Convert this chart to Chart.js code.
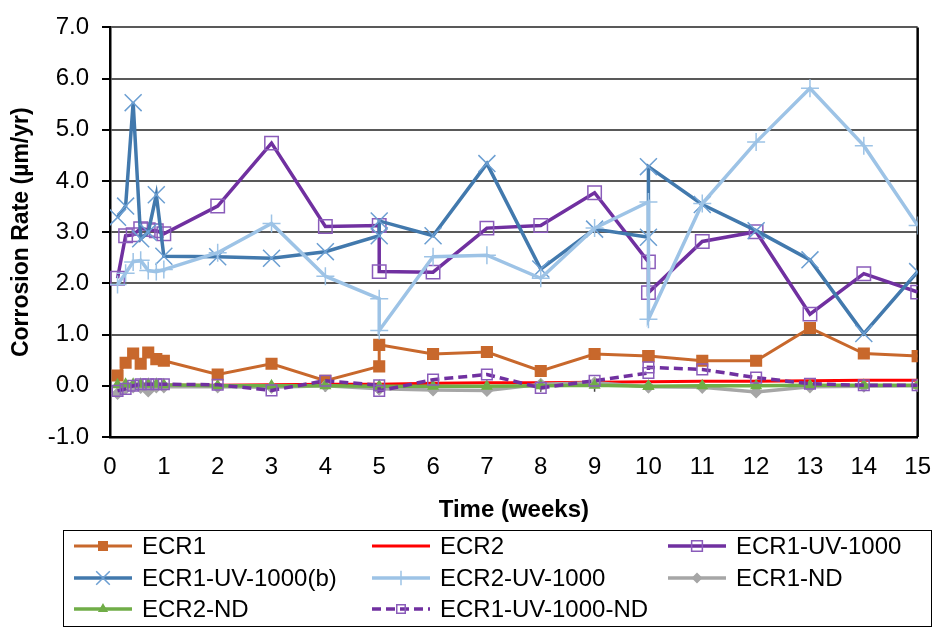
<!DOCTYPE html>
<html>
<head>
<meta charset="utf-8">
<style>
  html, body { margin: 0; padding: 0; background: #fff; }
  #wrap { width: 947px; height: 629px; }
</style>
<script src="https://cdn.jsdelivr.net/npm/chart.js@4.4.1/dist/chart.umd.min.js"></script>
</head>
<body>
<div id="wrap"><canvas id="chart" width="947" height="629"></canvas></div>
<script>
// time axis (weeks) shared by every series; weeks 5 and 10 have two readings each
const weeks = [0.14, 0.29, 0.43, 0.57, 0.71, 0.86, 1, 2, 3, 4, 5, 5, 6, 7, 8, 9, 10, 10, 11, 12, 13, 14, 15];

const ecr1        = [0.20, 0.45, 0.63, 0.43, 0.65, 0.52, 0.49, 0.22, 0.43, 0.10, 0.38, 0.80, 0.62, 0.66, 0.29, 0.62, 0.58, 0.58, 0.49, 0.49, 1.13, 0.63, 0.58];
const ecr2        = [0.00, 0.00, 0.01, 0.01, 0.01, 0.01, 0.01, 0.01, 0.02, 0.03, 0.03, 0.03, 0.05, 0.06, 0.06, 0.07, 0.08, 0.08, 0.09, 0.09, 0.10, 0.11, 0.11];
const ecr1Uv      = [2.10, 2.93, 2.95, 3.07, 3.05, 3.03, 2.97, 3.51, 4.74, 3.11, 3.13, 2.23, 2.22, 3.08, 3.13, 3.77, 2.42, 1.82, 2.82, 3.01, 1.40, 2.19, 1.83];
const ecr1UvB     = [3.29, 3.51, 5.53, 2.87, 3.00, 3.73, 2.53, 2.52, 2.49, 2.62, 2.93, 3.22, 2.93, 4.34, 2.28, 3.06, 2.90, 4.28, 3.54, 3.03, 2.46, 1.02, 2.23];
const ecr2Uv      = [1.98, 2.20, 2.42, 2.45, 2.25, 2.23, 2.27, 2.60, 3.17, 2.14, 1.70, 1.08, 2.52, 2.55, 2.10, 3.08, 3.59, 1.30, 3.56, 4.76, 5.81, 4.69, 3.13];
const ecr1Nd      = [-0.15, -0.05, -0.02, -0.03, -0.10, -0.02, -0.02, -0.02, -0.03, 0.00, -0.06, -0.06, -0.08, -0.09, 0.03, 0.06, -0.02, -0.02, -0.03, -0.12, -0.02, -0.01, 0.00];
const ecr2Nd      = [0.02, 0.03, 0.03, 0.03, 0.03, 0.03, 0.02, 0.00, 0.00, 0.00, -0.01, -0.01, -0.01, -0.01, 0.00, 0.01, -0.01, -0.01, 0.00, 0.00, 0.01, 0.01, 0.01];
const ecr1UvNd    = [-0.10, -0.06, 0.00, 0.03, 0.03, 0.03, 0.03, 0.02, -0.09, 0.10, 0.01, -0.10, 0.12, 0.22, -0.04, 0.10, 0.25, 0.36, 0.32, 0.16, 0.04, 0.01, 0.01];

const yTicks = [-1, 0, 1, 2, 3, 4, 5, 6, 7];

const FONT = 'Arial, "Liberation Sans", sans-serif';
Chart.defaults.font.family = FONT;
Chart.defaults.color = '#000';

function pts(values) {
    return values.map((v, i) => ({ x: weeks[i], y: v }));
}

function series(label, values, style) {
    return Object.assign({
        label: label,
        data: pts(values),
        fill: false,
        tension: 0,
        borderWidth: 3.5,
        pointBorderWidth: 1.5,
        pointRadius: 0
    }, style);
}

const datasets = [
    series('ECR1', ecr1, {
        borderColor: '#C8682C', backgroundColor: '#C8682C', borderWidth: 3,
        pointStyle: 'rect', pointRadius: 7.5, pointBackgroundColor: '#C8682C', pointBorderColor: '#C8682C'
    }),
    series('ECR2', ecr2, {
        borderColor: '#FF0000', backgroundColor: '#FF0000', borderWidth: 3
    }),
    series('ECR1-UV-1000', ecr1Uv, {
        borderColor: '#7030A0', backgroundColor: 'rgba(0,0,0,0)',
        pointStyle: 'rect', pointRadius: 9.5, pointBackgroundColor: 'rgba(0,0,0,0)', pointBorderColor: '#8A5CBA'
    }),
    series('ECR1-UV-1000(b)', ecr1UvB, {
        borderColor: '#4279AD', backgroundColor: 'rgba(0,0,0,0)',
        pointStyle: 'crossRot', pointRadius: 12, pointBorderColor: '#6C9FD2'
    }),
    series('ECR2-UV-1000', ecr2Uv, {
        borderColor: '#9DC3E6', backgroundColor: 'rgba(0,0,0,0)',
        pointStyle: 'cross', pointRadius: 9, pointBorderColor: '#9DC3E6'
    }),
    series('ECR1-ND', ecr1Nd, {
        borderColor: '#A6A6A6', backgroundColor: '#A6A6A6',
        pointStyle: 'rectRot', pointRadius: 5.5, pointBackgroundColor: '#A6A6A6', pointBorderColor: '#A6A6A6'
    }),
    series('ECR2-ND', ecr2Nd, {
        borderColor: '#70AD47', backgroundColor: '#70AD47',
        pointStyle: 'triangle', pointRadius: 5.5, pointBackgroundColor: '#70AD47', pointBorderColor: '#70AD47'
    }),
    series('ECR1-UV-1000-ND', ecr1UvNd, {
        borderColor: '#7030A0', backgroundColor: 'rgba(0,0,0,0)', borderDash: [9, 5],
        pointStyle: 'rect', pointRadius: 7.5, pointBackgroundColor: 'rgba(0,0,0,0)', pointBorderColor: '#8A5CBA'
    })
];
// later series painted on top, like the spreadsheet
datasets.forEach((d, i) => { d.order = datasets.length - i; });

// right edge of the plot frame + small ticks on the zero line
const framePlugin = {
    id: 'frame',
    beforeDatasetsDraw(chart) {
        const { ctx, chartArea, scales } = chart;
        ctx.save();
        ctx.strokeStyle = '#000';
        ctx.lineWidth = 2.5;
        ctx.beginPath();
        ctx.moveTo(chartArea.right, chartArea.top);
        ctx.lineTo(chartArea.right, chartArea.bottom);
        ctx.stroke();
        const y0 = scales.y.getPixelForValue(0);
        ctx.strokeStyle = '#444';
        ctx.lineWidth = 1.5;
        ctx.beginPath();
        for (let w = 1; w <= 15; w++) {
            const x = scales.x.getPixelForValue(w);
            ctx.moveTo(x, y0);
            ctx.lineTo(x, y0 + 6);
        }
        ctx.stroke();
        ctx.restore();
    }
};

// three-column legend in a box under the axis title
const legendPlugin = {
    id: 'boxLegend',
    afterDraw(chart) {
        const ctx = chart.ctx;
        const cols = [74, 372, 668];
        const rows = [546, 578, 609];
        ctx.save();
        ctx.strokeStyle = '#000';
        ctx.lineWidth = 1;
        ctx.strokeRect(63.5, 530.5, 868, 96);
        ctx.font = '24px ' + FONT;
        ctx.textBaseline = 'middle';
        ctx.fillStyle = '#000';
        chart.data.datasets.forEach((ds, i) => {
            const x = cols[i % 3];
            const y = rows[Math.floor(i / 3)];
            ctx.save();
            ctx.strokeStyle = ds.borderColor;
            ctx.lineWidth = ds.borderWidth;
            ctx.setLineDash(ds.borderDash || []);
            ctx.beginPath();
            ctx.moveTo(x, y);
            ctx.lineTo(x + 58, y);
            ctx.stroke();
            ctx.setLineDash([]);
            if (ds.pointRadius > 0 && Chart.helpers && Chart.helpers.drawPoint) {
                ctx.strokeStyle = ds.pointBorderColor;
                ctx.fillStyle = ds.pointBackgroundColor || 'rgba(0,0,0,0)';
                ctx.lineWidth = ds.pointBorderWidth;
                Chart.helpers.drawPoint(ctx, {
                    pointStyle: ds.pointStyle,
                    radius: ds.pointRadius * 0.8,
                    rotation: 0,
                    borderWidth: ds.pointBorderWidth
                }, x + 29, y);
            }
            ctx.restore();
            ctx.fillText(ds.label, x + 68, y + 1);
        });
        ctx.restore();
    }
};

new Chart(document.getElementById('chart'), {
    type: 'line',
    data: { datasets: datasets },
    options: {
        responsive: false,
        animation: false,
        layout: { padding: { top: 19, right: 27, bottom: 102, left: 0 } },
        plugins: {
            legend: { display: false },
            tooltip: { enabled: false }
        },
        scales: {
            x: {
                type: 'linear',
                min: 0,
                max: 15,
                ticks: { stepSize: 1, font: { size: 24 }, color: '#000', padding: 16 },
                grid: { display: false, drawTicks: false },
                border: { color: '#000', width: 2.5 },
                title: {
                    display: true, text: 'Time (weeks)', color: '#000',
                    font: { size: 24, weight: 'bold' }, padding: { top: 0, bottom: 2 }
                },
                afterFit(scale) { scale.height = 90; }
            },
            y: {
                min: -1,
                max: 7,
                afterBuildTicks(scale) { scale.ticks = yTicks.map(v => ({ value: v })); },
                ticks: { font: { size: 24 }, color: '#000', padding: 13, callback: v => Number(v).toFixed(1) },
                grid: { color: '#595959', lineWidth: 2, tickLength: 8, tickColor: '#000', tickWidth: 2 },
                border: { color: '#000', width: 2.5 },
                title: {
                    display: true, text: 'Corrosion Rate (µm/yr)', color: '#000',
                    font: { size: 23, weight: 'bold' }, padding: { top: 8, bottom: 0 }
                },
                afterFit(scale) { scale.width = 110; }
            }
        }
    },
    plugins: [framePlugin, legendPlugin]
});
</script>
</body>
</html>
